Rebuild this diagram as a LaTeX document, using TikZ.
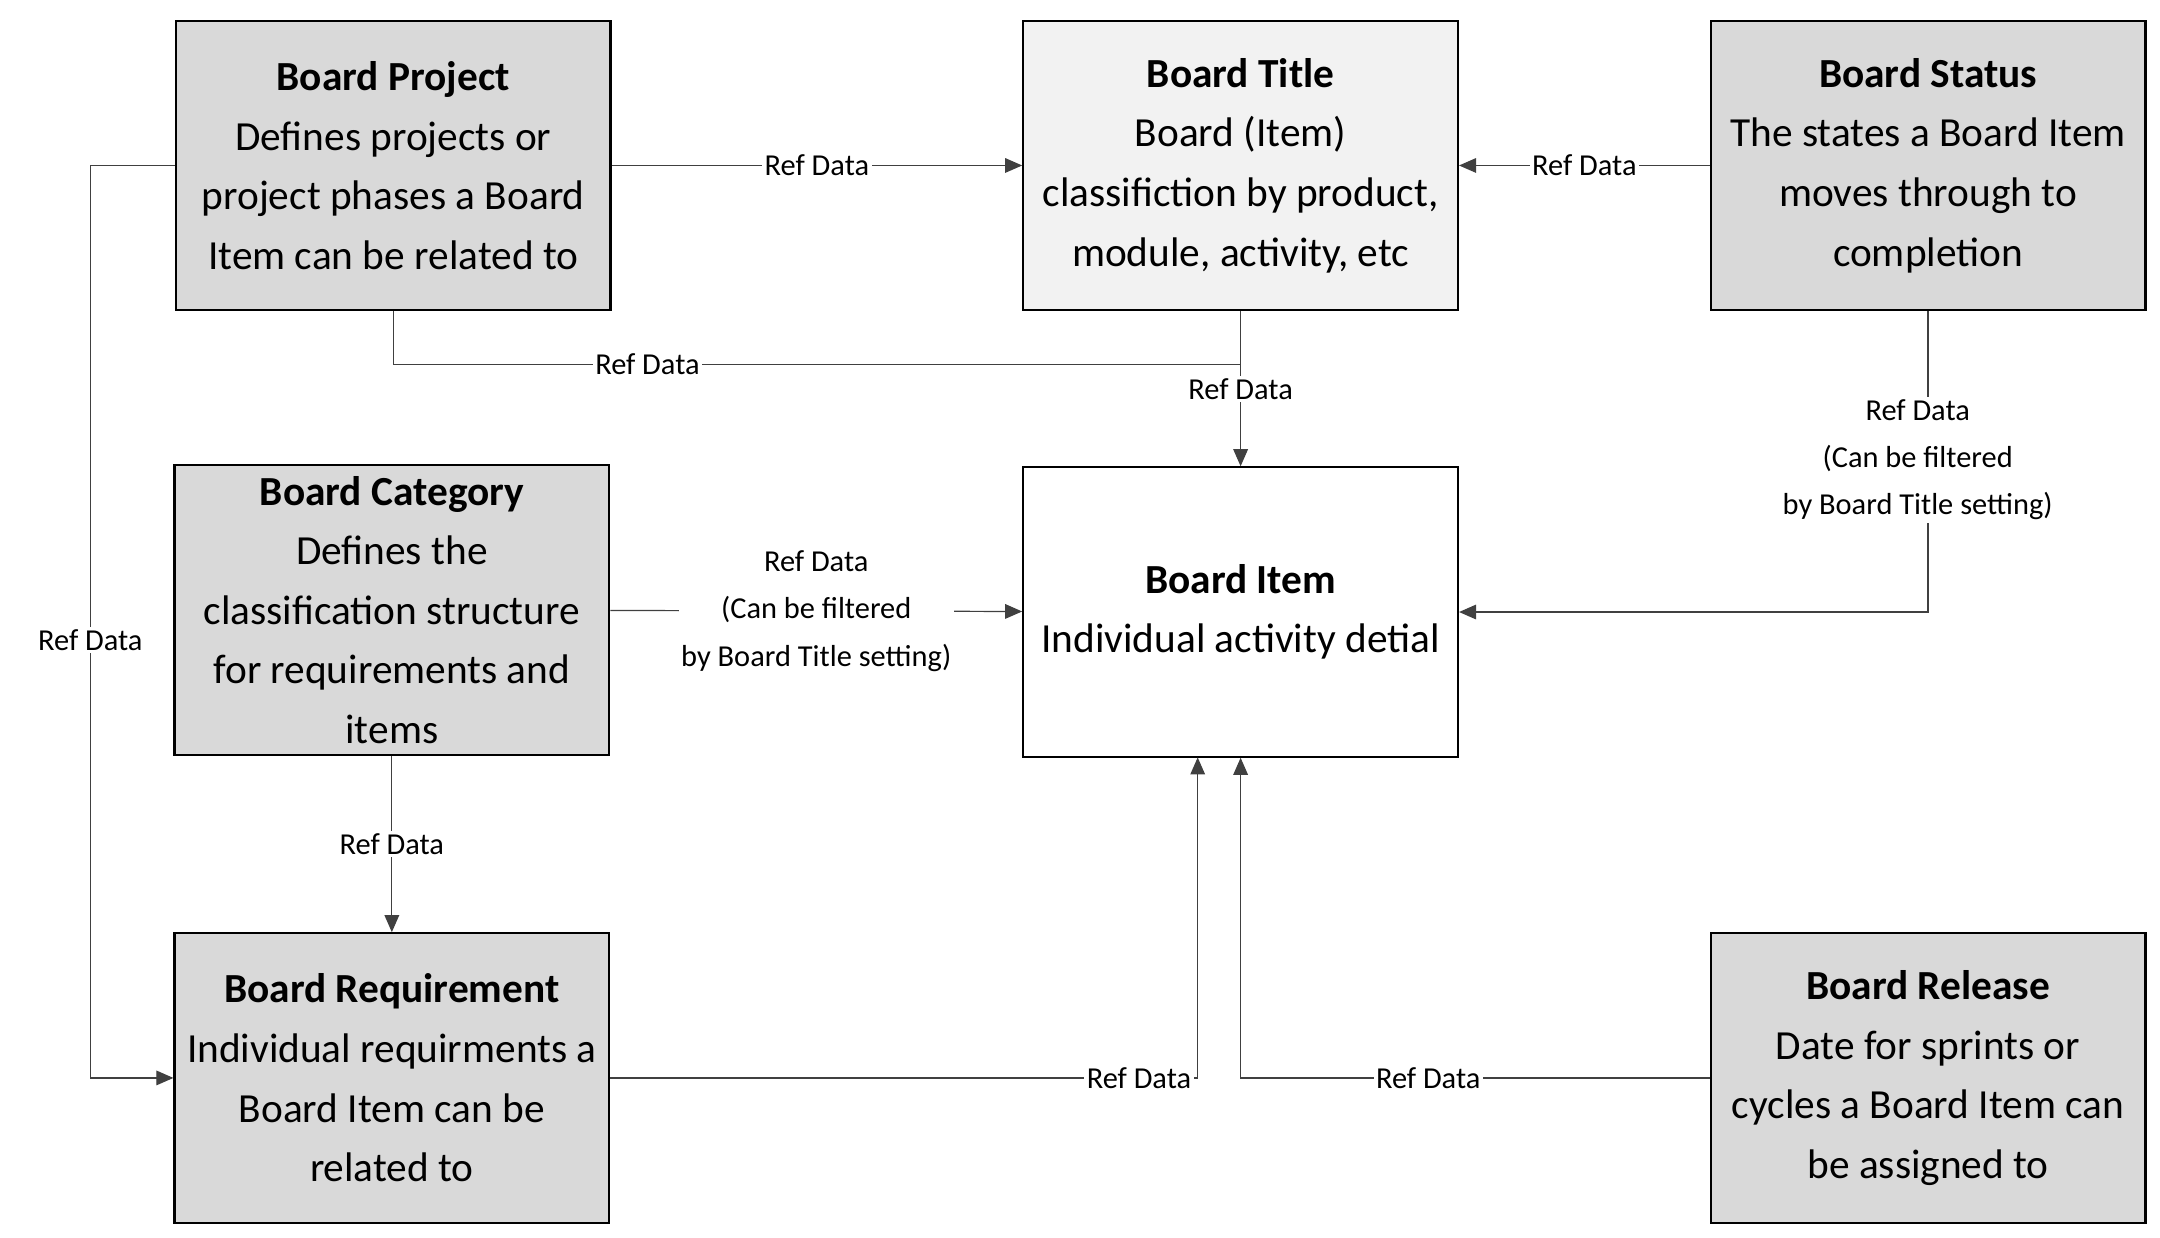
\documentclass[tikz,border=0pt]{standalone}
\usepackage{fontspec}
\setmainfont{Carlito}
\usetikzlibrary{arrows.meta}
\begin{document}
\begin{tikzpicture}[x=0.02cm,y=-0.02cm,
    box/.style={draw,line width=0.9pt,fill=gray!30,minimum width=6.28cm,minimum height=4.18cm,align=center,font=\fontsize{17}{24.5}\selectfont,inner sep=2pt},
    link/.style={draw=black!75,line width=0.5pt},
    arr/.style={link,-{Triangle[length=7pt,width=6pt]}},
    lbl/.style={fill=white,inner sep=1pt,align=center,font=\fontsize{12.5}{19.5}\selectfont}]
    \useasboundingbox (0,0) rectangle (1560,894);

    \node[box] (project) at (284,119.5) {\textbf{Board Project}\\Defines projects or\\project phases a Board\\Item can be related to};
    \node[box,fill=gray!10] (title) at (896,119.5) {\textbf{Board Title}\\Board (Item)\\classifiction by product,\\module, activity, etc};
    \node[box] (status) at (1392.5,119.5) {\textbf{Board Status}\\The states a Board Item\\moves through to\\completion};
    \node[box] (category) at (283,440.5) {\textbf{Board Category}\\Defines the\\classification structure\\for requirements and\\items};
    \node[box,fill=white] (item) at (896,442) {\textbf{Board Item}\\Individual activity detial};
    \node[box] (requirement) at (283,778.5) {\textbf{Board Requirement}\\Individual requirments a\\Board Item can be\\related to};
    \node[box] (release) at (1392.5,778.5) {\textbf{Board Release}\\Date for sprints or\\cycles a Board Item can\\be assigned to};

    \coordinate (pj) at (896,263);
    \coordinate (itembl) at (865,547);

    % top row
    \draw[arr] (project) -- node[lbl,pos=0.5]{Ref Data} (title);
    \draw[arr] (status) -- node[lbl]{Ref Data} (title);
    \draw[arr] (title) -- node[lbl,pos=0.5]{Ref Data} (item);
    \draw[link] (project.south) |- node[lbl,pos=0.65]{Ref Data} (pj);
    \draw[arr] (status.south) |- (item.east -| title.east);
    \node[lbl] at (1385,332) {Ref Data\\(Can be filtered\\by Board Title setting)};

    % middle
    \draw[arr] (category) -- node[lbl]{Ref Data\\(Can be filtered\\by Board Title setting)} (item);
    \draw[arr] (category) -- node[lbl]{Ref Data} (requirement);
    \draw[arr] (project.west) -- ++(-61,0) |- node[lbl,pos=0.26]{Ref Data} (requirement.west);

    % bottom
    \draw[arr] (requirement.east) -| node[lbl,pos=0.45]{Ref Data} (itembl);
    \draw[arr] (release.west) -| node[lbl,pos=0.3]{Ref Data} (item.south);
\end{tikzpicture}
\end{document}
